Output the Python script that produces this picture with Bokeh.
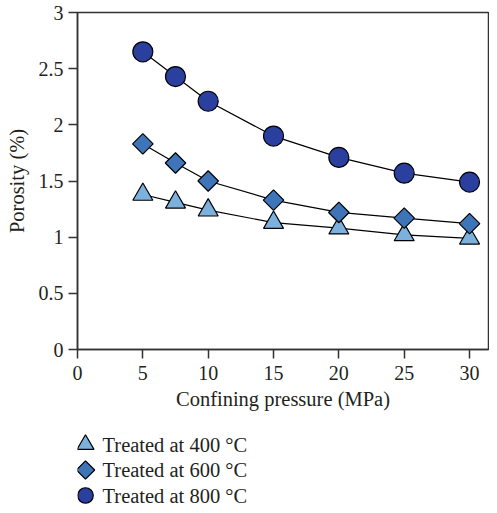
import math
from bokeh.plotting import figure
from bokeh.models import Range1d, FixedTicker, ColumnDataSource
from bokeh.layouts import column
from bokeh.embed import file_html
from bokeh.resources import INLINE
from bokeh.core.properties import value

# ---- data ----
pressure = [5, 7.5, 10, 15, 20, 25, 30]
por_400 = [1.38, 1.31, 1.24, 1.13, 1.08, 1.02, 0.99]
por_600 = [1.83, 1.66, 1.50, 1.33, 1.22, 1.17, 1.12]
por_800 = [2.65, 2.43, 2.21, 1.90, 1.71, 1.57, 1.49]
series_labels = ["Treated at 400 °C", "Treated at 600 °C", "Treated at 800 °C"]
x_ticks = [0, 5, 10, 15, 20, 25, 30]
y_ticks = [0, 0.5, 1, 1.5, 2, 2.5, 3]
y_tick_labels = ["0", "0.5", "1", "1.5", "2", "2.5", "3"]

FONT = "Liberation Serif"
AX = "#333333"
TXT = "#231f20"
C400 = "#7cb1dd"
C600 = "#3e74b8"
C800 = "#2a3f9e"

p = figure(width=489, height=430, x_range=Range1d(0, 31.45), y_range=Range1d(0, 3),
           toolbar_location=None, output_backend="svg",
           min_border_left=77, min_border_top=12, min_border_right=1, min_border_bottom=81)
p.xgrid.visible = False
p.ygrid.visible = False
p.outline_line_color = AX
p.outline_line_width = 1.5

for ax in (p.xaxis[0], p.yaxis[0]):
    ax.axis_line_color = AX
    ax.axis_line_width = 1.5
    ax.major_tick_line_color = AX
    ax.major_tick_line_width = 1.5
    ax.major_tick_out = 9
    ax.major_tick_in = 0
    ax.minor_tick_out = 0
    ax.minor_tick_in = 0
    ax.major_label_text_font = FONT
    ax.major_label_text_font_size = "20px"
    ax.major_label_text_color = TXT
    ax.axis_label_text_font = FONT
    ax.axis_label_text_font_size = "20.5px"
    ax.axis_label_text_font_style = "normal"
    ax.axis_label_text_color = TXT

p.xaxis.ticker = FixedTicker(ticks=x_ticks)
p.yaxis.ticker = FixedTicker(ticks=y_ticks)
p.yaxis.major_label_overrides = {t: l for t, l in zip(y_ticks, y_tick_labels)}
p.xaxis.axis_label = "Confining pressure (MPa)"
p.yaxis.axis_label = "Porosity (%)"
p.xaxis.major_label_standoff = 7
p.yaxis.major_label_standoff = 5
p.xaxis.axis_label_standoff = 5
p.yaxis.axis_label_standoff = 8

src = ColumnDataSource(dict(x=pressure, a=por_400, b=por_600, c=por_800))
for col in ("a", "b", "c"):
    p.line("x", col, source=src, line_color="black", line_width=1.2)

p.scatter("x", "a", source=src, marker="triangle", size=20,
          fill_color=C400, line_color="black", line_width=1.2)
p.scatter("x", "b", source=src, marker="square", size=14.5, angle=math.pi / 4,
          fill_color=C600, line_color="black", line_width=1.2)
p.scatter("x", "c", source=src, marker="circle", size=20,
          fill_color=C800, line_color="black", line_width=1.2)

# ---- legend panel (frame aligned with the main plot; 1 unit = 1 px) ----
lg = figure(width=489, height=76, x_range=Range1d(77, 488), y_range=Range1d(76, 0),
            toolbar_location=None, output_backend="svg",
            x_axis_type=None, y_axis_type=None,
            min_border_left=77, min_border_right=1, min_border_top=0, min_border_bottom=0)
lg.outline_line_color = None
lg.xgrid.visible = False
lg.ygrid.visible = False
rows = [14, 39.5, 65]
lsrc = ColumnDataSource(dict(y=rows, tx=[102] * 3, label=series_labels))
lg.scatter(x=[85], y=[rows[0]], marker="triangle", size=17,
           fill_color=C400, line_color="black", line_width=1.2)
lg.scatter(x=[85], y=[rows[1]], marker="square", size=13, angle=math.pi / 4,
           fill_color=C600, line_color="black", line_width=1.2)
lg.scatter(x=[85], y=[rows[2]], marker="circle", size=15.5,
           fill_color=C800, line_color="black", line_width=1.2)
lg.text("tx", "y", text="label", source=lsrc, text_font=value(FONT),
        text_font_size="20.5px", text_baseline="middle", text_color=TXT)

layout = column(p, lg, spacing=0)
open("out.html", "w").write(file_html(layout, INLINE))
